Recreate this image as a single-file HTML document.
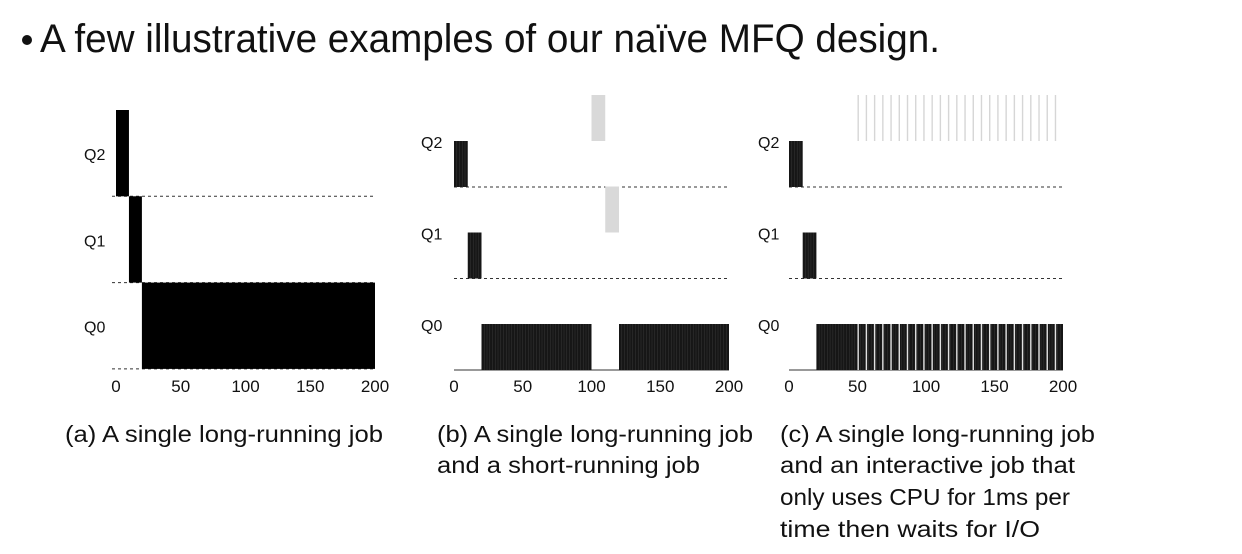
<!DOCTYPE html>
<html><head><meta charset="utf-8"><style>
html,body{margin:0;padding:0;background:#fff;}
svg{display:block;font-family:"Liberation Sans",sans-serif;}
</style></head><body>
<svg id="s" width="1242" height="554" viewBox="0 0 1242 554">
<circle cx="27" cy="40" r="5" fill="#111"/>
<text x="40" y="52" font-size="40" fill="#111" textLength="900" lengthAdjust="spacingAndGlyphs">A few illustrative examples of our naïve MFQ design.</text>
<g font-size="23" fill="#111">
<text x="65" y="442" textLength="318" lengthAdjust="spacingAndGlyphs">(a) A single long-running job</text>
<text x="437" y="442" textLength="316" lengthAdjust="spacingAndGlyphs">(b) A single long-running job</text>
<text x="437" y="473" textLength="263" lengthAdjust="spacingAndGlyphs">and a short-running job</text>
<text x="780" y="442" textLength="315" lengthAdjust="spacingAndGlyphs">(c) A single long-running job</text>
<text x="780" y="473" textLength="295" lengthAdjust="spacingAndGlyphs">and an interactive job that</text>
<text x="780" y="505" textLength="290" lengthAdjust="spacingAndGlyphs">only uses CPU for 1ms per</text>
<text x="780" y="537" textLength="260" lengthAdjust="spacingAndGlyphs">time then waits for I/O</text>
</g>
<g id="charts"></g>
</svg>
<script>
const ticks = [0, 50, 100, 150, 200];
const queues = ["Q2", "Q1", "Q0"];
// segments: [queueIndex(0=Q2), start, end]
const segA = [[0, 0, 10], [1, 10, 20], [2, 20, 200]];
const segB = [[0, 0, 10], [1, 10, 20], [2, 20, 100], [2, 120, 200]];
const grayB = [[0, 100, 110], [1, 110, 120]];
const segC = [[0, 0, 10], [1, 10, 20], [2, 20, 200]];
const ioC = [50,56,62,68,74,80,86,92,98,104,110,116,122,128,134,140,146,152,158,164,170,176,182,188,194];

const NS = "http://www.w3.org/2000/svg";
const root = document.getElementById("charts");
function el(tag, attrs, parent) {
  const e = document.createElementNS(NS, tag);
  for (const k in attrs) e.setAttribute(k, attrs[k]);
  (parent || root).appendChild(e);
  return e;
}

function chartA() {
  const g = el("g", {});
  
  
  const x = v => 116 + v * 259 / 200;
  const rowTop = i => 110 + i * 86.3;
  const rowH = 86.3;
  queues.forEach((q, i) => {
    const t = el("text", {x: 84, y: rowTop(i) + 50, "font-size": 16, fill: "#111"}, g);
    t.textContent = q;
    
    
    const l = el("line", {x1: 112, x2: 375, y1: rowTop(i) + rowH, y2: rowTop(i) + rowH, stroke: "#333", "stroke-dasharray": "3,3", "stroke-width": 1}, g);
    
    
  });
  segA.forEach(s => {
    const r = el("rect", {x: x(s[1]), y: rowTop(s[0]), width: x(s[2]) - x(s[1]), height: rowH, fill: "#000"}, g);
    
    
  });
  ticks.forEach(t => {
    const tx = el("text", {x: x(t), y: 392, "font-size": 17, fill: "#111", "text-anchor": "middle"}, g);
    tx.textContent = t;
    
    
  });
}

function chartBC(name, x0, x1, segs, labelX) {
  const g = el("g", {});
  
  
  const x = v => x0 + v * (x1 - x0) / 200;
  const top = i => 141 + i * 91.5;
  const h = 46;
  queues.forEach((q, i) => {
    const t = el("text", {x: labelX, y: top(i) + 7, "font-size": 16, fill: "#111"}, g);
    t.textContent = q;
    
    
    const yb = top(i) + h;
    const l = el("line", {x1: x0, x2: x1, y1: yb, y2: yb, stroke: "#333", "stroke-width": 1, "stroke-dasharray": i < 2 ? "3,3" : "none"}, g);
    
    
  });
  segs.forEach(s => {
    const r = el("rect", {x: x(s[1]), y: top(s[0]), width: x(s[2]) - x(s[1]), height: h, fill: "#161616"}, g);
    
    
    for (let v = s[1] + 2; v < s[2]; v += 2) {
      el("line", {x1: x(v), x2: x(v), y1: top(s[0]), y2: top(s[0]) + h, stroke: "#333", "stroke-width": 0.6}, g);
    }
  });
  ticks.forEach(t => {
    const tx = el("text", {x: x(t), y: 392, "font-size": 17, fill: "#111", "text-anchor": "middle"}, g);
    tx.textContent = t;
    
    
  });
  return {g, x, top, h};
}

chartA();
const b = chartBC("chart-b", 454, 729, segB, 421);
grayB.forEach(s => {
  const r = el("rect", {x: b.x(s[1]), y: b.top(s[0]) - b.h, width: b.x(s[2]) - b.x(s[1]), height: b.h, fill: "#d9d9d9"}, b.g);
  
  
});
const c = chartBC("chart-c", 789, 1063, segC, 758);
ioC.forEach(v => {
  const l = el("line", {x1: c.x(v + 0.5), x2: c.x(v + 0.5), y1: c.top(0) - c.h, y2: c.top(0), stroke: "#d6d6d6", "stroke-width": 1.4}, c.g);
  
  
  const gap = el("line", {x1: c.x(v + 0.5), x2: c.x(v + 0.5), y1: c.top(2), y2: c.top(2) + c.h, stroke: "#e0e0e0", "stroke-width": 1.4}, c.g);
  
  
});
</script>
</body></html>
